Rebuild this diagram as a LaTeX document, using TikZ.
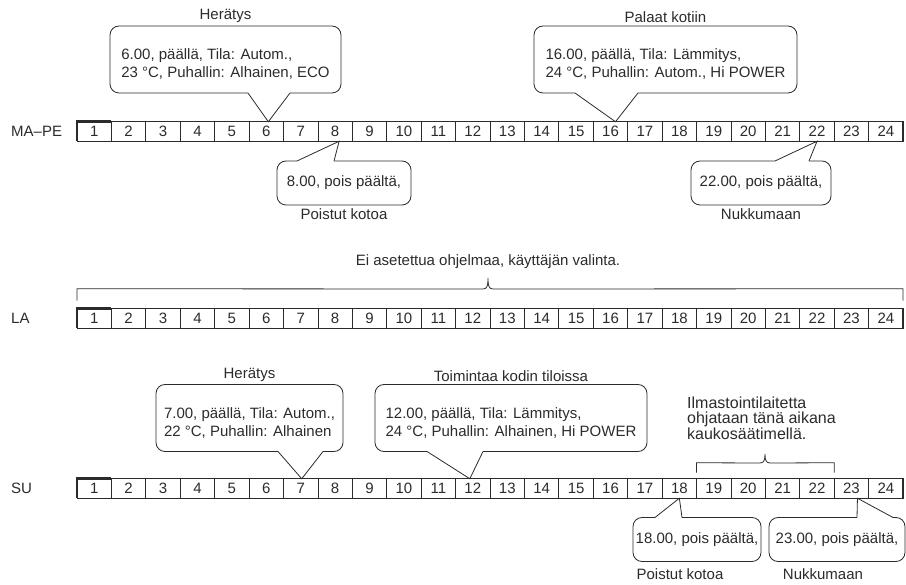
\documentclass[tikz,border=0pt]{standalone}
\usepackage{fontspec}
\setmainfont{Liberation Sans}
\usetikzlibrary{positioning}

\definecolor{ink}{HTML}{2B2B2B}
\newcommand{\tallstrut}{\rule{0pt}{22pt}}
\newcommand{\deepstrut}{\rule[-3pt]{0pt}{3pt}}
\newcommand{\bubbletail}[3]{%
  \draw[white, line width=1.6pt] #1 -- #3;
  \draw[wire] #1 -- #2 -- #3;}

\begin{document}
\begin{tikzpicture}[
  x=1pt, y=-1pt,
  font=\fontsize{15}{18}\selectfont, text=ink,
  wire/.style={draw=ink, line width=0.8pt},
  cell/.style={wire, minimum width=34.42pt, minimum height=19.5pt, inner sep=0pt, outer sep=0pt},
  edge/.style={draw=ink, line width=2.6pt},
  bubble/.style={wire, rounded corners=9pt, align=left, inner xsep=0pt, inner ysep=12pt, outer sep=0pt},
  note/.style={wire, rounded corners=9pt, inner sep=0pt, outer sep=0pt, minimum height=44pt},
  caption/.style={inner sep=0pt},
  day/.style={inner sep=0pt, anchor=west}
]
\useasboundingbox (0,0) rectangle (906,585);

% hour rows
\foreach \h in {1,...,24} {
  \node[cell] (m\h) at ({77+(\h-0.5)*34.42},131.5) {\h};
  \node[cell] (l\h) at ({77+(\h-0.5)*34.42},318.5) {\h};
  \node[cell] (s\h) at ({77+(\h-0.5)*34.42},488.5) {\h};
}
\foreach \r in {m,l,s} {
  \draw[edge] (\r1.south west) -- (\r1.north west) -- (\r1.north east);
  \draw[edge] (\r24.north east) -- (\r24.south east);
}
\node[day] (mape) at (11,131.5) {MA–PE};
\node[day] (la) at (11,318.5) {LA};
\node[day] (su) at (11,488.5) {SU};

% MA-PE
\node[bubble, minimum width=231pt] (wake) at (225.5,59.5) {\tallstrut 6.00, päällä, Tila: Autom.,\\23 °C, Puhallin: Alhainen, ECO\deepstrut};
\node[caption, above=3pt of wake] (waket) {Herätys};
\node[bubble, minimum width=263pt] (home) at (665.5,59.5) {\tallstrut 16.00, päällä, Tila: Lämmitys,\\24 °C, Puhallin: Autom., Hi POWER\deepstrut};
\node[caption, above=3pt of home] (homet) {Palaat kotiin};
\bubbletail{([xshift=138pt]wake.south west)}{([xshift=2pt]m6.north)}{([xshift=180pt]wake.south west)}
\bubbletail{([xshift=41pt]home.south west)}{([xshift=5pt]m16.north)}{([xshift=104pt]home.south west)}

\node[note, minimum width=134pt] (leave) at (344,183) {8.00, pois päältä,};
\node[caption, below=3pt of leave] (leavet) {Poistut kotoa};
\node[note, minimum width=140pt] (sleep) at (761,183) {22.00, pois päältä,};
\node[caption, below=3pt of sleep] (sleept) {Nukkumaan};
\bubbletail{([xshift=20pt]leave.north west)}{([xshift=4pt]m8.south)}{([xshift=57pt]leave.north west)}
\bubbletail{([xshift=84pt]sleep.north west)}{(m22.south)}{([xshift=118pt]sleep.north west)}

% LA
\draw[wire] ([yshift=8pt]l1.north west) -- ([yshift=20pt]l1.north west) -- (483,289)
  .. controls (487,289) and (488,286) .. (488,278)
  .. controls (488,286) and (489,289) .. (493,289)
  -- ([yshift=20pt]l24.north east) -- ([yshift=8pt]l24.north east);
\node[caption] (free) at (488,262) {Ei asetettua ohjelmaa, käyttäjän valinta.};

% SU
\node[bubble, minimum width=187pt] (swake) at (249.5,418) {\tallstrut 7.00, päällä, Tila: Autom.,\\22 °C, Puhallin: Alhainen\deepstrut};
\node[caption, above=3pt of swake] (swaket) {Herätys};
\node[bubble, minimum width=272pt] (indoor) at (511,418) {\tallstrut 12.00, päällä, Tila: Lämmitys,\\24 °C, Puhallin: Alhainen, Hi POWER\deepstrut};
\node[caption, above=3pt of indoor] (indoort) {Toimintaa kodin tiloissa};
\bubbletail{([xshift=122pt]swake.south west)}{([xshift=1pt]s7.north)}{([xshift=167pt]swake.south west)}
\bubbletail{([xshift=52pt]indoor.south west)}{([xshift=-3pt]s12.north)}{([xshift=108pt]indoor.south west)}

\node[caption, anchor=north west, align=left, font=\fontsize{16}{14.5}\selectfont] (remote) at (687,397) {Ilmastointilaitetta\\ohjataan tänä aikana\\kaukosäätimellä.};
\draw[wire] ([yshift=6pt]s19.north west) -- ([yshift=16pt]s19.north west) -- (760,463)
  .. controls (764,463) and (765,460) .. (765,454)
  .. controls (765,460) and (766,463) .. (770,463)
  -- ([yshift=16pt]s22.north east) -- ([yshift=6pt]s22.north east);

\node[note, minimum width=128pt] (sleave) at (697,539.5) {18.00, pois päältä,};
\node[caption] (sleavet) at (680,574) {Poistut kotoa};
\node[note, minimum width=136pt] (ssleep) at (837,539.5) {23.00, pois päältä,};
\node[caption] (ssleept) at (823,574) {Nukkumaan};
\bubbletail{([xshift=22pt]sleave.north west)}{(s18.south)}{([xshift=49pt]sleave.north west)}
\bubbletail{([xshift=88pt]ssleep.north west)}{([xshift=6pt]s23.south)}{([xshift=124pt]ssleep.north west)}
\end{tikzpicture}
\end{document}
